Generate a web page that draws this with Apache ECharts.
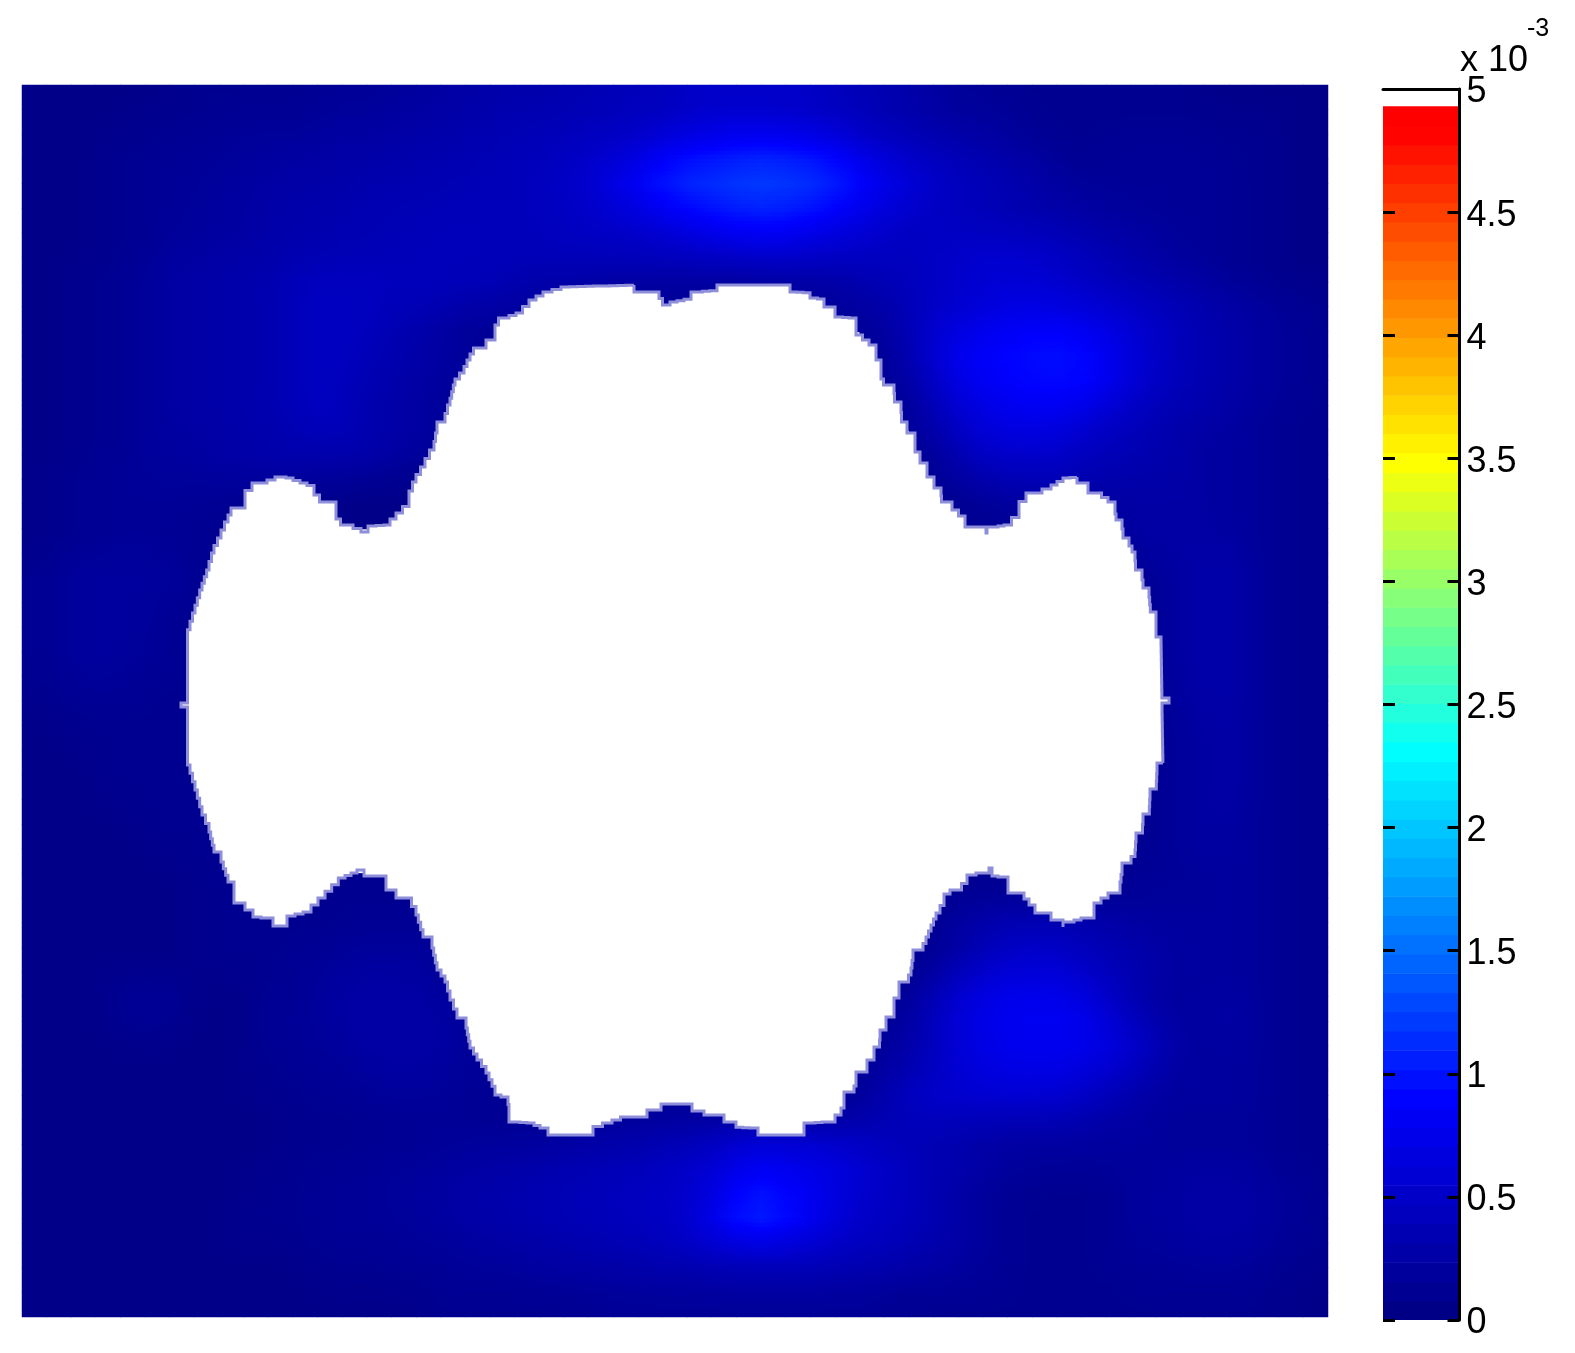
<!DOCTYPE html>
<html>
<head>
<meta charset="utf-8">
<style>html,body{margin:0;padding:0;background:#fff}#c{width:1575px;height:1353px}</style>
<script src="https://cdn.jsdelivr.net/npm/echarts@6/dist/echarts.min.js"></script>
</head>
<body>
<div id="c"></div>
<script>
// Field: one char per cell, base-36 digit in units of 0.05e-3.
// [cells from the left edge up to the hole, cells from the hole to the right edge]
const fieldRows = [
["1111112222 2233344556 6677889aaa aa98765433 2222222211 111",""],
["1111222233 3344455667 778899abcc cba9876544 3222222222 211",""],
["1112223334 4455566677 889aadghij jiheb98765 4322333322 211",""],
["1112233344 5556667778 89acfilmno onmjgdb987 6533333332 211",""],
["1112233445 5666777788 89acfilmno onmjgdb987 6544333332 211",""],
["1112233445 6667778888 899aacegij jigeca9988 7765443332 211",""],
["1112234455 6677788888 8899aabcde edcba99aaa a987654332 211",""],
["1122345566 7888888887 7776666666 7777889abc cba8765432 211",""],
["1122345566 7999988877 5444333333 3","3356 79abcccba98765 4322"],
["1122345566 7999876433 3","3469bdfggfeca9765432"],
["1122345566 7999765433","35aeghijjheb9765432"],
["1122345566 799876543","248dhijjjieb9765432"],
["1122345566 799765433","36beghiihda8765432"],
["1122345566 789765432","259ceffeb986654322"],
["1122344556 67776543","36acccb9876544322"],
["1223344455 65554322","24789987766544322"],
["1223333332 2221111","2456665555544322"],
["122333322 21111111","2223334455544322"],
["1223332222","355554322"],
["2344443222","34565322"],
["234444322","24565322"],
["234443222","24565322"],
["23444322","24565322"],
["23443322","24565322"],
["22333222","23565322"],
["12222222","23555322"],
["11222222","23455322"],
["11122222","23455322"],
["111222222","23455322"],
["111122222","23454322"],
["111112222","223454322"],
["1111112222","2233444322"],
["11111112222222222","2222222233344322"],
["1111111222 2222222","23455555444444322"],
["111111122222233332","24689987654444322"],
["111111122223344443","22479bba8765444322"],
["1112232112234555432","249ceeedb864444322"],
["1112332112334555543","36adfgggd964455322"],
["11112211123345555433","247befgggfc96445322"],
["11111111122334555433","357adefffec96444322"],
["111111111222334443332","2479bcdddca864444322"],
["1111111111222233332222 3333333333","2368aaaaaa98654444322"],
["1111111111 1222223333 3344556678 8888777665 5554443333 322",""],
["1111111111 2222333445 5667789adg gfecb98765 4444444444 322",""],
["1111111112 2233344556 677889abdh gfeca97653 3222344555 432",""],
["1111111112 2233344566 778899acin mjfca98643 2222344555 432",""],
["1111111122 2233334455 667788acgj ifda987653 2222344555 432",""],
["1111111111 1222233344 5566778899 a998876543 2222333444 322",""],
["1111111111 1122222333 3444455566 6665544433 2222233333 221",""],
["1111111111 1111112222 2223333333 3333322222 2222222222 211",""]
];
const fieldCols = 53;
const fieldUnit = 0.05;

// Outline of the white (out of range) region, in the hidden outline axis units.
const holeX = [181,187.5,187.5,195,202,209,214,221,228,234,245,259,275,286,300,314,325,336,345,361,368,384,396,409,416,425,434,437,445,450,455,464,470,477,495,502,516,529,543,561,634,634,659,666,670,691,695,717,719,790,790,810,811,824,826,835,836,849,856,856,869,876,876,881,881,886,894,895,901,902,907,908,915,915,920,920,927,927,934,935,941,942,952,965,967,986,987,992,1004,1019,1033,1051,1063,1077,1079,1088,1095,1108,1115,1117,1122,1124,1129,1135,1136,1142,1144,1149,1151,1156,1156,1161,1162,1169,1168,1162,1163,1157,1156,1150,1149,1143,1142,1136,1135,1127,1122,1120,1115,1094,1088,1074,1063,1061,1051,1049,1035,1029,1019,1008,1004,992,989,985,967,956,944,936,931,926,920,913,911,906,899,899,894,894,886,885,880,879,874,872,867,865,856,852,844,841,829,815,804,801,758,756,736,735,724,722,704,702,692,692,661,658,647,645,629,612,593,591,548,546,534,520,509,507,495,486,477,470,466,457,450,445,437,432,423,416,407,396,386,384,364,362,357,345,325,311,287,284,273,271,261,245,234,228,221,214,209,202,195,187.5,187.5];
const holeY = [703,698,638,613,590,570,553,538,522,508,498,483,477,478,483,488,502,513,525,532,526,525,513,500,482,467,450,433,422,405,385,373,360,348,332,318,313,300,292,287,285,292,292,305,302,298,292,290,285,285,292,293,298,300,307,312,317,318,322,335,345,348,360,362,373,385,385,402,403,422,423,433,435,452,453,463,465,477,478,488,490,502,510,522,527,527,533,527,525,510,493,485,478,477,483,485,493,502,508,520,520,538,540,552,570,572,588,590,612,613,637,637,698,698,703,707,763,766,789,792,814,816,833,834,850,863,867,882,893,908,918,922,927,920,919,913,913,905,893,885,877,875,868,873,877,890,898,913,925,937,950,953,968,982,983,998,1000,1017,1022,1030,1033,1047,1050,1060,1065,1072,1080,1092,1098,1108,1122,1123,1130,1135,1135,1128,1127,1122,1120,1115,1115,1111,1111,1104,1104,1110,1111,1117,1117,1123,1130,1135,1135,1128,1123,1122,1112,1097,1093,1073,1060,1048,1028,1018,1000,982,970,948,937,915,898,890,882,876,876,870,873,878,898,912,918,926,926,918,917,903,893,882,862,852,832,815,790,765,707];

// Colour scale and colour bar
const colorStops = [[0,[0,0,130]],[0.89,[0,0,255]],[2.315,[0,255,255]],[3.485,[255,255,0]],[4.83,[255,0,0]],[5,[255,0,0]]];
const barMin = 0, barMax = 5, barTick = 0.5;
const barBands = 63, barTop = 4.93;
const exponentBase = "x 10", exponentPower = "-3";

function colorAt(v){
  for(let i=1;i<colorStops.length;i++){
    const a=colorStops[i-1], b=colorStops[i];
    if(v<=b[0]){
      const t=(v-a[0])/(b[0]-a[0]);
      return 'rgb('+a[1].map((c,k)=>Math.round(c+(b[1][k]-c)*t)).join(',')+')';
    }
  }
  return 'rgb(255,0,0)';
}
const cells=[], cellValue={};
fieldRows.forEach((row,j)=>{
  const l=row[0].replace(/ /g,''), r=row[1].replace(/ /g,'');
  const put=(i,ch)=>{const v=parseInt(ch,36)*fieldUnit;cells.push([i,j,v]);cellValue[i+'_'+j]=v;};
  for(let i=0;i<l.length;i++) put(i,l[i]);
  for(let i=0;i<r.length;i++) put(fieldCols-r.length+i,r[i]);
});
// Corner shade of a cell: mean of the cells that touch that corner (display shading, as the source plot has).
function cornerShade(i,j){
  let s=0,n=0;
  [[i-1,j-1],[i,j-1],[i-1,j],[i,j]].forEach(c=>{const v=cellValue[c[0]+'_'+c[1]];if(v!==undefined){s+=v;n++;}});
  return n?s/n:0;
}
const range=n=>Array.from({length:n},(_,i)=>i);
const bandStep=barTop/barBands;
const bandData=range(barBands).map(i=>[i*bandStep,(i+1)*bandStep]);
const scaleColors=range(65).map(i=>colorAt(i*barMax/64));
const holeData=holeX.map((x,i)=>[x,holeY[i]]);
const strips=6, stairPx=8;

const chart=echarts.init(document.getElementById('c'),null,{renderer:'canvas'});
chart.setOption({
  animation:false,
  backgroundColor:'#fff',
  textStyle:{fontFamily:'Liberation Sans'},
  grid:[
    {left:22,top:85,width:1306,height:1232,show:false},
    {left:1383,top:89,width:76.5,height:1231,show:false}
  ],
  xAxis:[
    {gridIndex:0,type:'category',data:range(fieldCols),show:false},
    {gridIndex:0,type:'value',min:22,max:1328,show:false},
    {gridIndex:1,type:'value',min:0,max:1,position:'top',z:5,splitLine:{show:false},axisTick:{show:false},axisLabel:{show:false},
      axisLine:{show:true,onZero:false,lineStyle:{color:'#000',width:3}}}
  ],
  yAxis:[
    {gridIndex:0,type:'category',data:range(fieldRows.length),inverse:true,show:false},
    {gridIndex:0,type:'value',min:85,max:1317,inverse:true,show:false},
    {gridIndex:1,type:'value',min:barMin,max:barMax,interval:barTick,position:'right',z:5,
      splitLine:{show:false},
      axisLine:{show:true,onZero:false,lineStyle:{color:'#000',width:3}},
      axisTick:{show:true,inside:true,length:12,lineStyle:{color:'#000',width:3}},
      axisLabel:{show:true,margin:7,formatter:'{t|{value}}',rich:{t:{color:'#000',fontSize:36,fontFamily:'Liberation Sans',padding:[7,0,0,0]}},showMinLabel:true,showMaxLabel:true,hideOverlap:false}},
    {gridIndex:1,type:'value',min:barMin,max:barMax,interval:barTick,position:'left',z:5,
      splitLine:{show:false},axisLabel:{show:false},
      axisLine:{show:false,onZero:false},
      axisTick:{show:true,inside:true,length:12,lineStyle:{color:'#000',width:3}}}
  ],
  visualMap:{show:false,type:'continuous',min:barMin,max:barMax,seriesIndex:0,dimension:2,inRange:{color:scaleColors}},
  series:[
    {type:'heatmap',xAxisIndex:0,yAxisIndex:0,data:cells,progressive:0,silent:true,emphasis:{disabled:true}},
    {type:'custom',xAxisIndex:0,yAxisIndex:0,z:2,silent:true,clip:true,data:cells,encode:{x:0,y:1},
      renderItem:function(params,api){
        const i=api.value(0), j=api.value(1);
        const c=api.coord([i,j]), s=api.size([1,1]);
        const tl=cornerShade(i,j), tr=cornerShade(i+1,j), bl=cornerShade(i,j+1), br=cornerShade(i+1,j+1);
        const x=c[0]-s[0]/2, y=c[1]-s[1]/2, h=s[1]/strips;
        const children=[];
        for(let k=0;k<strips;k++){
          const t=(k+0.5)/strips, l=tl+(bl-tl)*t, r=tr+(br-tr)*t;
          children.push({type:'rect',shape:{x:x,y:y+k*h,width:s[0]+0.6,height:h+0.8},
            style:{fill:{type:'linear',x:0,y:0,x2:1,y2:0,colorStops:[{offset:0,color:colorAt(l)},{offset:1,color:colorAt(r)}]}}});
        }
        return {type:'group',children:children};
      }},
    {type:'custom',xAxisIndex:1,yAxisIndex:1,z:3,silent:true,clip:true,data:holeData,encode:{x:0,y:1},
      renderItem:function(params,api){
        if(params.dataIndex!==0) return null;
        const pts=[];
        holeData.forEach((p,i)=>{
          const a=api.coord(holeData[(i-1+holeData.length)%holeData.length]), b=api.coord(p);
          const n=Math.max(1,Math.round(Math.max(Math.abs(b[0]-a[0]),Math.abs(b[1]-a[1]))/stairPx));
          const vertical=Math.abs(b[1]-a[1])>Math.abs(b[0]-a[0])?1:0;
          if(a[0]===b[0]||a[1]===b[1]){pts.push(b);return;}
          for(let k=1;k<=n;k++){
            const qx=a[0]+(b[0]-a[0])*k/n, qy=a[1]+(b[1]-a[1])*k/n;
            const px=a[0]+(b[0]-a[0])*(k-1)/n, py=a[1]+(b[1]-a[1])*(k-1)/n;
            pts.push(vertical?[px,qy]:[qx,py],[qx,qy]);
          }
        });
        return {type:'polygon',shape:{points:pts},style:{fill:'#fff',stroke:'#8e8edb',lineWidth:3,lineJoin:'miter'}};
      }},
    {type:'custom',xAxisIndex:2,yAxisIndex:2,z:2,silent:true,clip:true,data:bandData,encode:{y:[0,1]},
      renderItem:function(params,api){
        const lo=api.value(0), hi=api.value(1);
        const a=api.coord([0,lo]), b=api.coord([1,hi]);
        return {type:'rect',shape:{x:a[0],y:b[1],width:b[0]-a[0],height:a[1]-b[1]+0.6},style:{fill:colorAt((lo+hi)/2)}};
      }}
  ],
  graphic:[
    {type:'text',left:1460,top:43,style:{text:exponentBase,font:'36px "Liberation Sans"',fill:'#000'}},
    {type:'text',left:1527,top:17,style:{text:exponentPower,font:'25px "Liberation Sans"',fill:'#000'}}
  ]
});
</script>
</body>
</html>
